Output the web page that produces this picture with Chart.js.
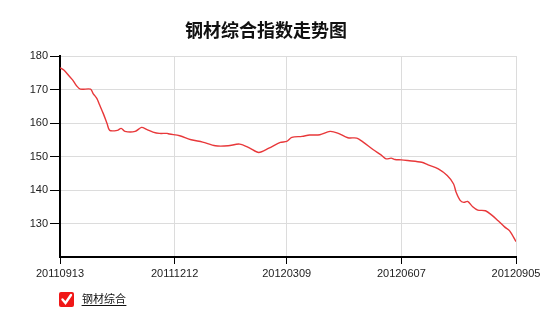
<!DOCTYPE html>
<html>
<head>
<meta charset="utf-8">
<script src="https://cdn.jsdelivr.net/npm/chart.js@4/dist/chart.umd.min.js"></script>
<style>
html,body{margin:0;padding:0;background:#fff;}
canvas{display:block;background:#fff;}
</style>
</head>
<body>
<canvas id="c" width="557" height="311"></canvas>
<script>
const chartTitle = '钢材综合指数走势图';
const seriesName = '钢材综合';
const dates = [
 '20110913','20110916','20110920','20110923','20110926','20110929','20111007','20111009',
 '20111012','20111014','20111017','20111020','20111022','20111028','20111031','20111103',
 '20111111','20111116','20111120','20111125','20111130','20111206','20111208','20111216',
 '20111225','20120103','20120113','20120123','20120201','20120209','20120216','20120224',
 '20120304','20120309','20120313','20120321','20120327','20120404','20120412','20120418',
 '20120426','20120503','20120508','20120516','20120522','20120526','20120530','20120602',
 '20120607','20120612','20120623','20120628','20120706','20120713','20120718','20120720',
 '20120723','20120726','20120729','20120802','20120806','20120812','20120817','20120822',
 '20120827','20120831','20120905'
];
const values = [
 176.5,175.8,174.1,172.8,171.1,170.1,170.1,168.8,
 167.3,165.5,162.8,159.8,157.8,157.8,158.4,157.5,
 157.5,158.7,158.1,157.3,156.9,156.9,156.7,156.2,
 155.0,154.3,153.2,153.2,153.7,152.5,151.2,152.5,
 154.2,154.5,155.7,156.0,156.4,156.5,157.5,157.0,
 155.6,155.5,154.3,152.0,150.5,149.3,149.5,149.1,
 149.0,148.8,148.3,147.5,146.3,144.3,141.8,139.3,
 137.0,136.3,136.6,135.0,134.0,133.8,132.5,130.8,
 129.0,127.8,124.6
];
const xTickLabels = ['20110913','20111212','20120309','20120607','20120905'];
const yTicks = [130,140,150,160,170,180];

function toTime(s){return Date.UTC(+s.slice(0,4), +s.slice(4,6)-1, +s.slice(6,8));}
const t0 = toTime(dates[0]);
function dayOf(s){return Math.round((toTime(s)-t0)/86400000);}
const points = dates.map((d,i)=>({x:dayOf(d), y:values[i]}));

const titlePlugin = {
  id:'customTitle',
  afterDraw(chart){
    const ctx = chart.ctx;
    ctx.save();
    ctx.font = 'bold 18px "Noto Sans CJK SC", sans-serif';
    ctx.fillStyle = '#111';
    ctx.textAlign = 'center';
    ctx.textBaseline = 'middle';
    ctx.fillText(chartTitle, 266, 30);
    ctx.restore();
  }
};
const legendPlugin = {
  id:'customLegend',
  afterDraw(chart){
    const ctx = chart.ctx;
    ctx.save();
    // red checkbox
    const bx=59, by=292, bs=15;
    ctx.fillStyle = '#f01818';
    ctx.beginPath();
    if (ctx.roundRect) ctx.roundRect(bx,by,bs,bs,2); else ctx.rect(bx,by,bs,bs);
    ctx.fill();
    ctx.strokeStyle = '#fff';
    ctx.lineWidth = 2.4;
    ctx.lineCap = 'round';
    ctx.beginPath();
    ctx.moveTo(bx+3.5, by+7.5);
    ctx.lineTo(bx+6.5, by+11);
    ctx.lineTo(bx+12, by+3);
    ctx.stroke();
    // text
    ctx.font = '11px "Noto Sans CJK SC", sans-serif';
    ctx.fillStyle = '#111';
    ctx.textAlign = 'left';
    ctx.textBaseline = 'middle';
    ctx.fillText(seriesName, 82, 299);
    const w = ctx.measureText(seriesName).width;
    ctx.strokeStyle = '#111';
    ctx.lineWidth = 1;
    ctx.beginPath();
    ctx.moveTo(82, 305.5);
    ctx.lineTo(82+w, 305.5);
    ctx.stroke();
    ctx.restore();
  }
};

new Chart(document.getElementById('c'), {
  type:'line',
  data:{
    datasets:[{
      label: seriesName,
      data: points,
      borderColor:'#e8383a',
      borderWidth:1.4,
      pointRadius:0,
      tension:0.3,
      fill:false
    }]
  },
  options:{
    responsive:false,
    animation:false,
    layout:{padding:{top:56,right:41,left:0,bottom:0}},
    plugins:{legend:{display:false},title:{display:false},tooltip:{enabled:false}},
    scales:{
      x:{
        type:'linear',
        min:0,
        max:dayOf(xTickLabels[xTickLabels.length-1]),
        afterBuildTicks(scale){ scale.ticks = xTickLabels.map(d=>({value:dayOf(d)})); },
        afterFit(scale){ scale.height = 54; },
        ticks:{
          autoSkip:false, maxRotation:0, padding:3,
          color:'#222',
          font:{family:'"Liberation Sans", Arial, sans-serif', size:11},
          callback(v){ const d = xTickLabels.find(s=>dayOf(s)===v); return d || ''; }
        },
        grid:{color:'#dcdcdc', tickColor:'#000', tickLength:7, lineWidth:1},
        border:{color:'#000', width:2}
      },
      y:{
        min:120, max:180,
        afterBuildTicks(scale){ scale.ticks = [120].concat(yTicks).map(v=>({value:v})); },
        afterFit(scale){ scale.width = 60; },
        ticks:{
          padding:2, color:'#222',
          font:{family:'"Liberation Sans", Arial, sans-serif', size:11},
          callback(v){ return yTicks.includes(v) ? String(v) : ''; }
        },
        grid:{
          color:(c)=> c.tick && c.tick.value===120 ? 'rgba(0,0,0,0)' : '#dcdcdc',
          tickColor:(c)=> c.tick && c.tick.value===120 ? 'rgba(0,0,0,0)' : '#000',
          tickLength:10, lineWidth:1
        },
        border:{color:'#000', width:2}
      }
    }
  },
  plugins:[titlePlugin, legendPlugin]
});
</script>
</body>
</html>
